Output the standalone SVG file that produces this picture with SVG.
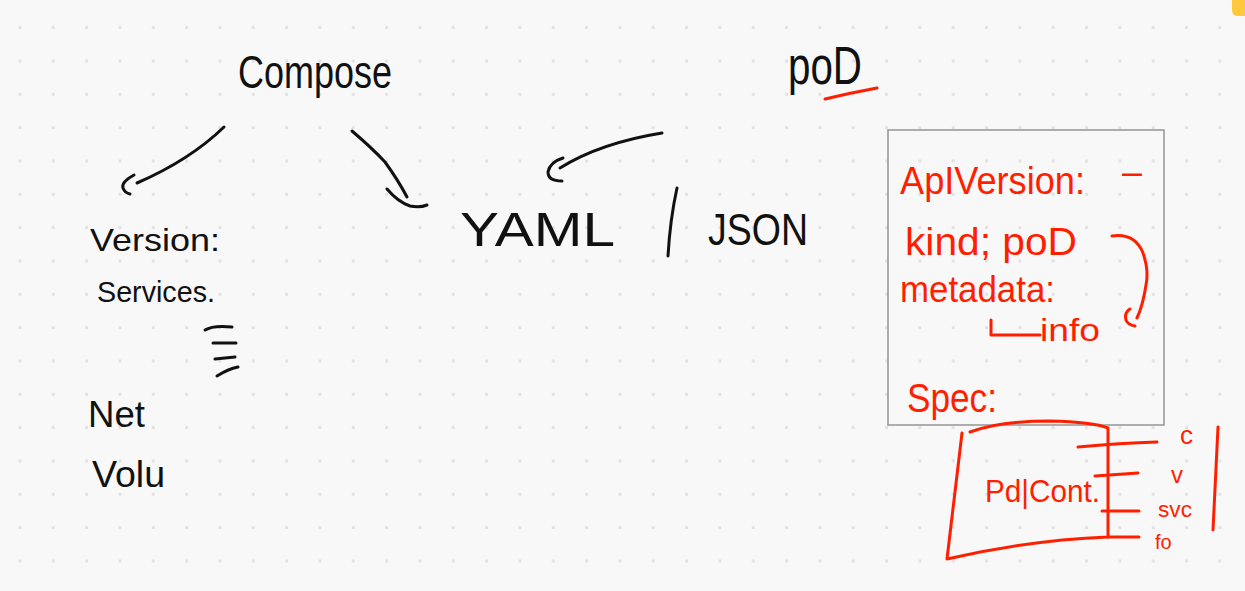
<svg xmlns="http://www.w3.org/2000/svg" width="1245" height="591" viewBox="0 0 1245 591">
<defs>
<pattern id="dots" x="18.5" y="26.2" width="33.33" height="33.33" patternUnits="userSpaceOnUse">
<rect x="0" y="0" width="3" height="3" fill="#e2e2e2"/>
</pattern>
<style>
.ink{fill:none;stroke:#111;stroke-width:3;stroke-linecap:round;stroke-linejoin:round}
.red{fill:none;stroke:#ff1f00;stroke-width:3;stroke-linecap:round;stroke-linejoin:round}
.bt{font-family:"Liberation Sans",Arial,sans-serif;fill:#111}
.rt{font-family:"Liberation Sans",Arial,sans-serif;fill:#ff1f00}
</style>
</defs>
<rect width="1245" height="591" fill="#f8f8f8"/>
<rect width="1245" height="591" fill="url(#dots)"/>
<path d="M1232,0 H1245 V16 H1238 Q1232,16 1232,10 Z" fill="#ffc83d"/>

<g id="compose"><text class="bt" x="238" y="88" font-size="46" textLength="154" lengthAdjust="spacingAndGlyphs">Compose</text></g>
<g id="pod"><text class="bt" x="788" y="84" font-size="54" textLength="74" lengthAdjust="spacingAndGlyphs">poD</text>
<path class="red" d="M825,99 Q850,93 877,88"/></g>

<g id="compose-keys">
<text class="bt" x="90" y="251" font-size="32" textLength="130" lengthAdjust="spacingAndGlyphs">Version:</text>
<text class="bt" x="97" y="302" font-size="30" textLength="118" lengthAdjust="spacingAndGlyphs">Services.</text>
<path class="ink" d="M205,330 Q213,325 232,327 M213,343 L236,343 M215,359 L235,357 M217,376 Q228,369 238,367"/>
<text class="bt" x="88" y="427" font-size="36" textLength="57" lengthAdjust="spacingAndGlyphs">Net</text>
<text class="bt" x="92" y="487" font-size="36" textLength="73" lengthAdjust="spacingAndGlyphs">Volu</text>
</g>

<g id="format">
<text class="bt" x="460" y="246" font-size="48" textLength="155" lengthAdjust="spacingAndGlyphs">YAML</text>
<path class="ink" d="M677,188 Q670,220 668,256"/>
<text class="bt" x="708" y="245" font-size="44" textLength="100" lengthAdjust="spacingAndGlyphs">JSON</text>
</g>

<g id="connectors">
<path class="ink" d="M224,127 Q190,160 137,183"/>
<path class="ink" d="M134,175 Q121,182 123,188 Q125,193 130,194"/>
<path class="ink" d="M352,131 Q372,148 385,162 Q398,180 407,197"/>
<path class="ink" d="M387,189 Q398,202 410,206 Q420,208 427,205"/>
<path class="ink" d="M662,133 Q600,143 560,168"/>
<path class="ink" d="M563,158 Q550,162 548,172 Q548,181 562,181"/>
</g>

<g id="pod-spec">
<rect x="888" y="130" width="276" height="295" fill="none" stroke="#9a9a9a" stroke-width="1.6"/>
<text class="rt" x="900" y="194" font-size="38" textLength="185" lengthAdjust="spacingAndGlyphs">ApIVersion:</text>
<text class="rt" x="1122" y="184" font-size="36" textLength="20" lengthAdjust="spacingAndGlyphs">–</text>
<text class="rt" x="905" y="255" font-size="38" textLength="172" lengthAdjust="spacingAndGlyphs">kind; poD</text>
<text class="rt" x="900" y="302" font-size="36" textLength="155" lengthAdjust="spacingAndGlyphs">metadata:</text>
<path class="red" d="M991,320 L991,335 L1040,335"/>
<text class="rt" x="1040" y="341" font-size="32" textLength="60" lengthAdjust="spacingAndGlyphs">info</text>
<path class="red" d="M1112,236 Q1135,233 1143,253 Q1149,270 1146,285 Q1143,305 1137,318 M1130,309 Q1124,313 1126,320 Q1128,325 1135,326"/>
<text class="rt" x="907" y="412" font-size="40" textLength="90" lengthAdjust="spacingAndGlyphs">Spec:</text>
</g>

<g id="container">
<path class="red" d="M962,433 L947,559 Q1030,540 1108,537 M970,432 Q1000,421 1050,421 Q1093,422 1108,428 L1108,537"/>
<text class="rt" x="985" y="502" font-size="32" textLength="115" lengthAdjust="spacingAndGlyphs">Pd|Cont.</text>
<path class="red" d="M1078,447 Q1120,443 1157,442 M1095,476 L1138,473 M1102,511 L1139,511 M1108,537 L1139,537"/>
<text class="rt" x="1180" y="444" font-size="26">c</text>
<text class="rt" x="1171" y="483" font-size="24">v</text>
<text class="rt" x="1158" y="517" font-size="22" textLength="34" lengthAdjust="spacingAndGlyphs">svc</text>
<text class="rt" x="1155" y="549" font-size="20">fo</text>
<path class="red" d="M1218,427 L1213,530"/>
</g>
</svg>
